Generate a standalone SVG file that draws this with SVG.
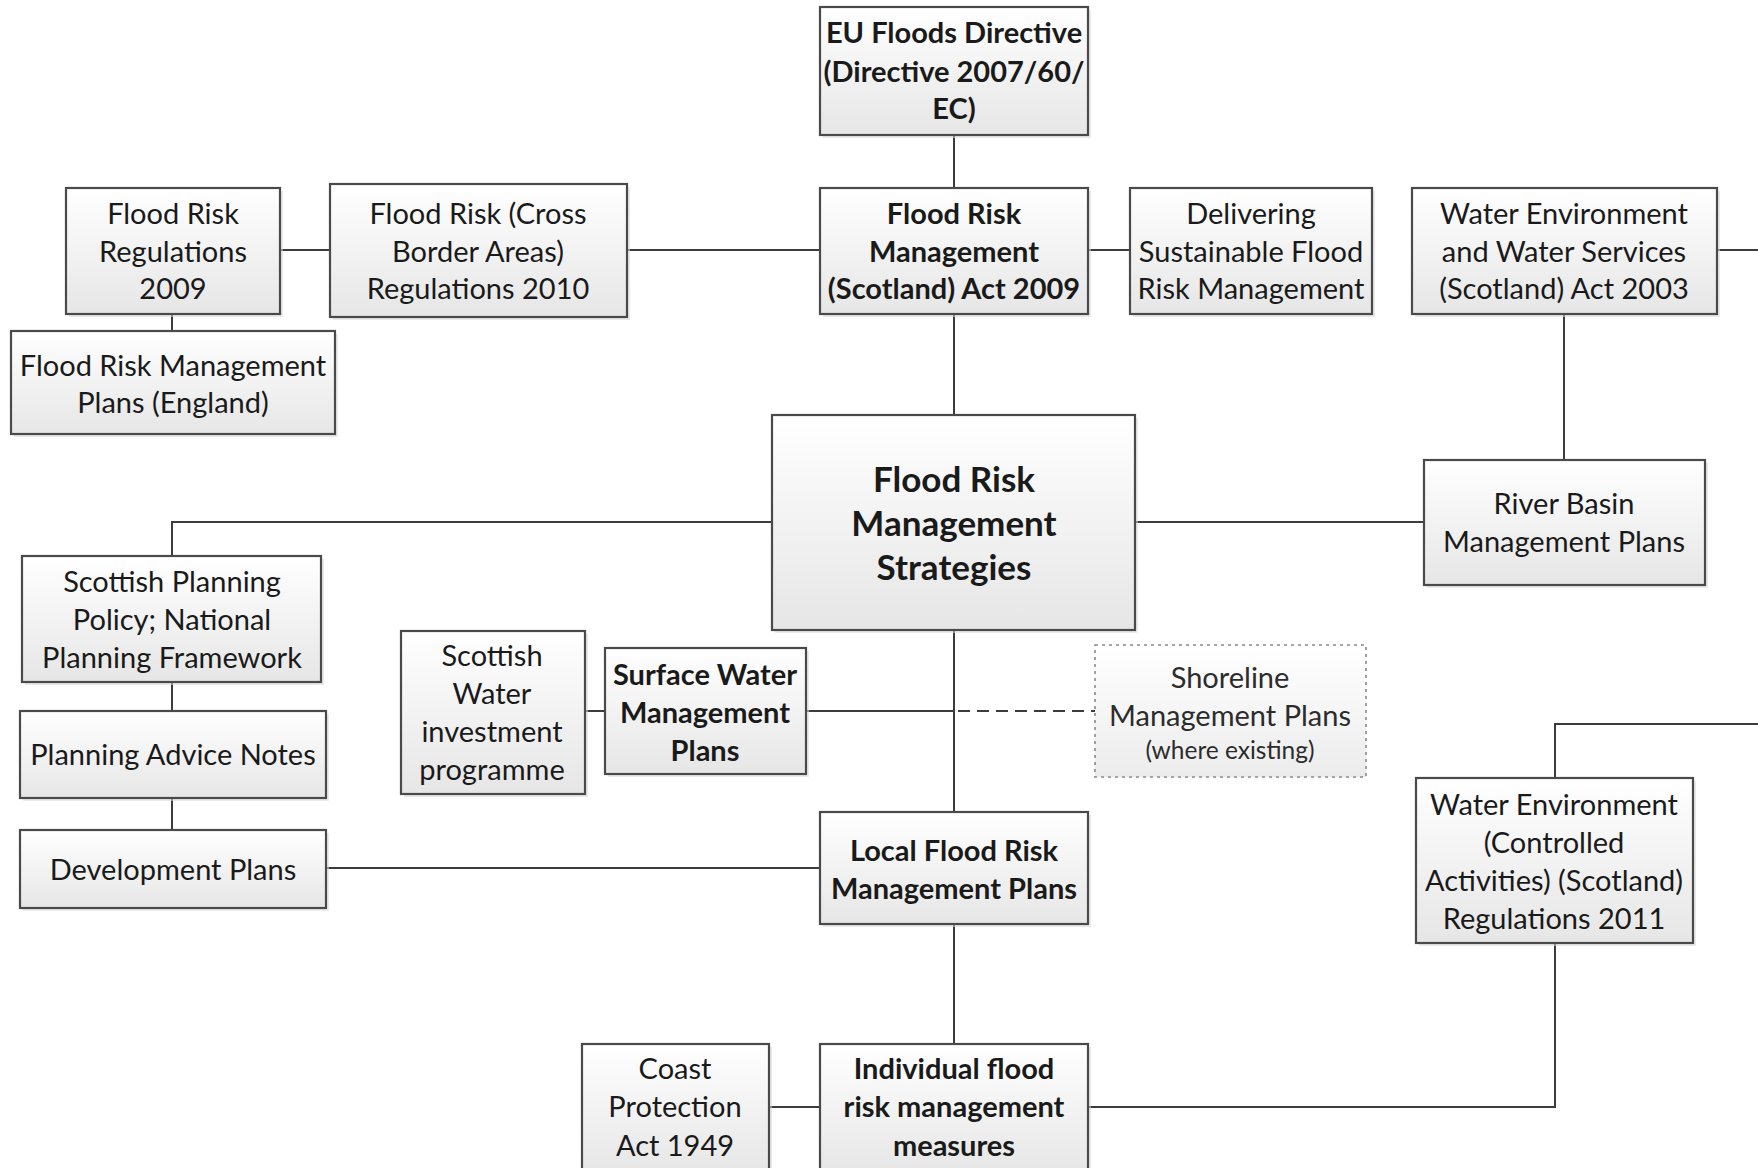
<svg xmlns="http://www.w3.org/2000/svg" width="1758" height="1168" viewBox="0 0 1758 1168">
<style>
.box{fill:url(#g);stroke:#4a4a4a;stroke-width:2.2}
.sh{fill:#d9d9d9;opacity:0.55}
.dbox{fill:url(#g2);stroke:#8a8a8a;stroke-width:1.6;stroke-dasharray:3 4}
text{font-family:Lato,"Open Sans","Liberation Sans",sans-serif;font-size:29px;fill:#1a1a1a;text-anchor:middle;dominant-baseline:central}
.b{font-weight:bold}
.big{font-size:35px;font-weight:bold}
.lt{fill:#2c2c2c}
.sm{font-size:24.5px;fill:#2c2c2c}
.c{stroke:#3c3c3c;stroke-width:2;fill:none}
.d{stroke:#3c3c3c;stroke-width:1.8;fill:none;stroke-dasharray:12 7}
</style>
<defs>
<linearGradient id="g" x1="0" y1="0" x2="0" y2="1"><stop offset="0" stop-color="#ffffff"/><stop offset="1" stop-color="#e6e6e6"/></linearGradient>
<linearGradient id="g2" x1="0" y1="0" x2="0" y2="1"><stop offset="0" stop-color="#ffffff"/><stop offset="1" stop-color="#ececec"/></linearGradient>
</defs>
<rect width="1758" height="1168" fill="#ffffff"/>
<g id="connectors">
<path class="c" d="M954 135V188"/>
<path class="c" d="M280 250H330"/>
<path class="c" d="M627 250H820"/>
<path class="c" d="M1088 250H1130"/>
<path class="c" d="M1717 250H1758"/>
<path class="c" d="M172 314V331"/>
<path class="c" d="M954 314V415"/>
<path class="c" d="M1564 314V460"/>
<path class="c" d="M1135 522H1424"/>
<path class="c" d="M772 522H172V556"/>
<path class="c" d="M172 682V711"/>
<path class="c" d="M172 798V830"/>
<path class="c" d="M326 868H820"/>
<path class="c" d="M954 630V812"/>
<path class="c" d="M585 711H605"/>
<path class="c" d="M806 711H954"/>
<path class="d" d="M958 711H1095"/>
<path class="c" d="M954 924V1044"/>
<path class="c" d="M769 1107H820"/>
<path class="c" d="M1088 1107H1555V943"/>
<path class="c" d="M1758 724H1555V778"/>
</g>
<g id="eu">
<rect class="sh" x="823" y="10" width="268" height="128"/>
<rect class="box" x="820" y="7" width="268" height="128"/>
<text class="b" x="954" y="31">EU Floods Directive</text>
<text class="b" x="954" y="70">(Directive 2007/60/</text>
<text class="b" x="954" y="107">EC)</text>
</g>
<g id="frm-act">
<rect class="sh" x="823" y="191" width="268" height="126"/>
<rect class="box" x="820" y="188" width="268" height="126"/>
<text class="b" x="954" y="212">Flood Risk</text>
<text class="b" x="954" y="250">Management</text>
<text class="b" x="954" y="287">(Scotland) Act 2009</text>
</g>
<g id="frr2009">
<rect class="sh" x="69" y="191" width="214" height="126"/>
<rect class="box" x="66" y="188" width="214" height="126"/>
<text x="173" y="212">Flood Risk</text>
<text x="173" y="250">Regulations</text>
<text x="173" y="287">2009</text>
</g>
<g id="cross-border">
<rect class="sh" x="333" y="187" width="297" height="133"/>
<rect class="box" x="330" y="184" width="297" height="133"/>
<text x="478" y="212">Flood Risk (Cross</text>
<text x="478" y="250">Border Areas)</text>
<text x="478" y="287">Regulations 2010</text>
</g>
<g id="frmp-england">
<rect class="sh" x="14" y="334" width="324" height="103"/>
<rect class="box" x="11" y="331" width="324" height="103"/>
<text x="173" y="364">Flood Risk Management</text>
<text x="173" y="401">Plans (England)</text>
</g>
<g id="delivering">
<rect class="sh" x="1133" y="191" width="242" height="126"/>
<rect class="box" x="1130" y="188" width="242" height="126"/>
<text x="1251" y="212">Delivering</text>
<text x="1251" y="250">Sustainable Flood</text>
<text x="1251" y="287">Risk Management</text>
</g>
<g id="wews">
<rect class="sh" x="1415" y="191" width="305" height="126"/>
<rect class="box" x="1412" y="188" width="305" height="126"/>
<text x="1564" y="212">Water Environment</text>
<text x="1564" y="250">and Water Services</text>
<text x="1564" y="287">(Scotland) Act 2003</text>
</g>
<g id="frms">
<rect class="sh" x="775" y="418" width="363" height="215"/>
<rect class="box" x="772" y="415" width="363" height="215"/>
<text class="big" x="954" y="478">Flood Risk</text>
<text class="big" x="954" y="522">Management</text>
<text class="big" x="954" y="566">Strategies</text>
</g>
<g id="river-basin">
<rect class="sh" x="1427" y="463" width="281" height="125"/>
<rect class="box" x="1424" y="460" width="281" height="125"/>
<text x="1564" y="502">River Basin</text>
<text x="1564" y="540">Management Plans</text>
</g>
<g id="spp">
<rect class="sh" x="25" y="559" width="299" height="126"/>
<rect class="box" x="22" y="556" width="299" height="126"/>
<text x="172" y="580">Scottish Planning</text>
<text x="172" y="618">Policy; National</text>
<text x="172" y="656">Planning Framework</text>
</g>
<g id="pan">
<rect class="sh" x="23" y="714" width="306" height="87"/>
<rect class="box" x="20" y="711" width="306" height="87"/>
<text x="173" y="753">Planning Advice Notes</text>
</g>
<g id="dev-plans">
<rect class="sh" x="23" y="833" width="306" height="78"/>
<rect class="box" x="20" y="830" width="306" height="78"/>
<text x="173" y="868">Development Plans</text>
</g>
<g id="scottish-water">
<rect class="sh" x="404" y="634" width="184" height="163"/>
<rect class="box" x="401" y="631" width="184" height="163"/>
<text x="492" y="654">Scottish</text>
<text x="492" y="692">Water</text>
<text x="492" y="730">investment</text>
<text x="492" y="768">programme</text>
</g>
<g id="surface-water">
<rect class="sh" x="608" y="651" width="201" height="126"/>
<rect class="box" x="605" y="648" width="201" height="126"/>
<text class="b" x="705" y="673">Surface Water</text>
<text class="b" x="705" y="711">Management</text>
<text class="b" x="705" y="749">Plans</text>
</g>
<g id="shoreline">
<rect class="dbox" x="1095" y="645" width="271" height="132"/>
<text class="lt" x="1230" y="676">Shoreline</text>
<text class="lt" x="1230" y="714">Management Plans</text>
<text class="sm" x="1230" y="749">(where existing)</text>
</g>
<g id="local-frmp">
<rect class="sh" x="823" y="815" width="268" height="112"/>
<rect class="box" x="820" y="812" width="268" height="112"/>
<text class="b" x="954" y="849">Local Flood Risk</text>
<text class="b" x="954" y="887">Management Plans</text>
</g>
<g id="wecar">
<rect class="sh" x="1419" y="781" width="277" height="165"/>
<rect class="box" x="1416" y="778" width="277" height="165"/>
<text x="1554" y="803">Water Environment</text>
<text x="1554" y="841">(Controlled</text>
<text x="1554" y="879">Activities) (Scotland)</text>
<text x="1554" y="917">Regulations 2011</text>
</g>
<g id="coast-protection">
<rect class="sh" x="585" y="1047" width="187" height="130"/>
<rect class="box" x="582" y="1044" width="187" height="130"/>
<text x="675" y="1067">Coast</text>
<text x="675" y="1105">Protection</text>
<text x="675" y="1144">Act 1949</text>
</g>
<g id="individual">
<rect class="sh" x="823" y="1047" width="268" height="130"/>
<rect class="box" x="820" y="1044" width="268" height="130"/>
<text class="b" x="954" y="1067">Individual flood</text>
<text class="b" x="954" y="1105">risk management</text>
<text class="b" x="954" y="1144">measures</text>
</g>
</svg>
